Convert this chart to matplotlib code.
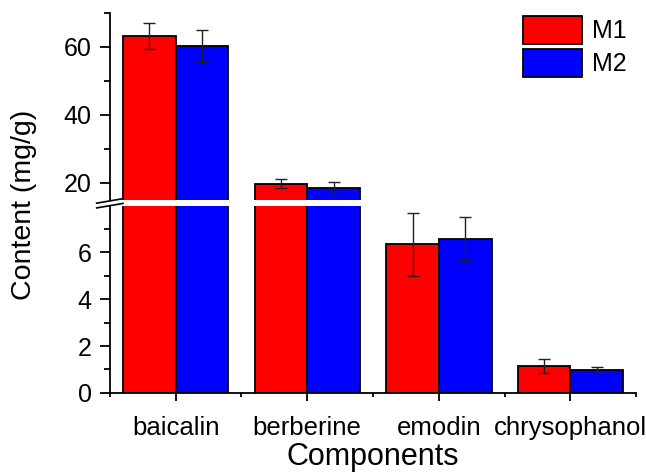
import numpy as np
import matplotlib.pyplot as plt
from matplotlib.ticker import FixedLocator

plt.rcParams['font.family'] = ['Liberation Sans', 'DejaVu Sans']

# data
components = ['baicalin', 'berberine', 'emodin', 'chrysophanol']
m1 = [63.2, 19.8, 6.35, 1.16]
m1_err = [3.8, 1.3, 1.35, 0.30]
m2 = [60.2, 18.6, 6.58, 0.98]
m2_err = [4.7, 1.6, 0.92, 0.13]

x = np.arange(1, len(components) + 1)
w = 0.4

fig = plt.figure(figsize=(6.46, 4.75), dpi=100)
ax_top = fig.add_axes([0.170, 0.579, 0.815, 0.394])
ax_bot = fig.add_axes([0.170, 0.173, 0.815, 0.394])

for ax in (ax_top, ax_bot):
    ax.bar(x - w / 2, m1, w, color='#ff0000', edgecolor='black', linewidth=1.3, label='M1')
    ax.bar(x + w / 2, m2, w, color='#0000ff', edgecolor='black', linewidth=1.3, label='M2')
    ax.errorbar(x - w / 2, m1, yerr=m1_err, fmt='none', ecolor='#222222', elinewidth=1, capsize=4)
    ax.errorbar(x + w / 2, m2, yerr=m2_err, fmt='none', ecolor='#222222', elinewidth=1, capsize=4)
    ax.set_xlim(0.5, 4.5)
    for s in ('top', 'right'):
        ax.spines[s].set_visible(False)
    ax.spines['left'].set_linewidth(1.3)
    ax.spines['bottom'].set_linewidth(1.3)
    ax.tick_params(axis='y', which='major', direction='out', length=7, width=1.3,
                   labelsize=18, pad=6)
    ax.tick_params(axis='y', which='minor', direction='out', length=4, width=1.3)

ax_top.set_ylim(15, 70)
ax_top.yaxis.set_major_locator(FixedLocator([20, 40, 60]))
ax_top.yaxis.set_minor_locator(FixedLocator([30, 50, 70]))
ax_top.spines['bottom'].set_visible(False)
ax_top.tick_params(axis='x', which='both', bottom=False, labelbottom=False)

ax_bot.set_ylim(0, 8)
ax_bot.yaxis.set_major_locator(FixedLocator([0, 2, 4, 6]))
ax_bot.yaxis.set_minor_locator(FixedLocator([1, 3, 5, 7]))
ax_bot.set_xticks(x)
ax_bot.set_xticklabels(components, fontsize=18.5)
ax_bot.xaxis.set_minor_locator(FixedLocator([0.5, 1.5, 2.5, 3.5, 4.5]))
ax_bot.tick_params(axis='x', which='major', direction='out', length=6, width=1.3, pad=11)
ax_bot.tick_params(axis='x', which='minor', direction='out', length=3, width=1.3)
ax_bot.set_xlabel('Components', fontsize=22, labelpad=1)

fig.text(0.037, 0.568, 'Content (mg/g)', rotation=90, fontsize=20.5, ha='center', va='center')

# break marks on the y axis
d = 0.012
kw = dict(color='black', clip_on=False, linewidth=1.2)
ax_top.plot([-0.025, 0.025], [-0.005 - d, -0.005 + d], transform=ax_top.transAxes, **kw)
ax_bot.plot([-0.025, 0.025], [1.0 - d, 1.0 + d], transform=ax_bot.transAxes, **kw)

ax_top.legend(loc='upper left', bbox_to_anchor=(523 / 646, 1 - 16 / 475),
              bbox_transform=fig.transFigure, fontsize=18, frameon=False,
              borderpad=0, borderaxespad=0, handlelength=2.36, handleheight=1.35,
              labelspacing=0.2, handletextpad=0.4)

fig.savefig('out.png', dpi=100)
